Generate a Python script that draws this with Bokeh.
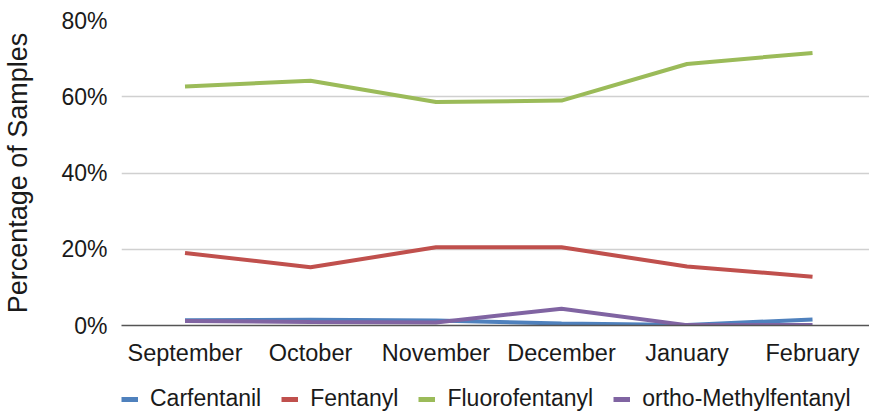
from bokeh.plotting import figure
from bokeh.models import Range1d, Legend, LegendItem, FixedTicker
from bokeh.layouts import column
from bokeh.embed import file_html
from bokeh.resources import INLINE

months = ["September", "October", "November", "December", "January", "February"]
carfentanil = [1.4, 1.5, 1.3, 0.5, 0.1, 1.6]
fentanyl = [19.0, 15.3, 20.5, 20.5, 15.5, 12.8]
fluorofentanyl = [62.7, 64.2, 58.6, 59.0, 68.6, 71.5]
ortho_methylfentanyl = [1.2, 0.9, 0.8, 4.4, 0.1, 0.1]
y_ticks = [0, 20, 40, 60, 80]
y_tick_labels = ["0%", "20%", "40%", "60%", "80%"]

series = [
    ("Carfentanil", carfentanil, "#4F81BD"),
    ("Fentanyl", fentanyl, "#C0504D"),
    ("Fluorofentanyl", fluorofentanyl, "#9BBB59"),
    ("ortho-Methylfentanyl", ortho_methylfentanyl, "#8064A2"),
]

FONT = "Liberation Sans"
TXT = "#1a1a1a"
xs = list(range(len(months)))

p = figure(width=869, height=368, output_backend="svg", toolbar_location=None,
           x_range=Range1d(-0.506, 5.454), y_range=Range1d(0, 80),
           min_border_left=121, min_border_right=0, min_border_top=20, min_border_bottom=40)
p.outline_line_color = None

for name, vals, col in series:
    p.line(xs, vals, line_color=col, line_width=4)

p.xaxis.ticker = FixedTicker(ticks=xs)
p.xaxis.major_label_overrides = {i: m for i, m in enumerate(months)}
p.xaxis.major_tick_line_color = None
p.xaxis.minor_tick_line_color = None
p.xaxis.axis_line_color = "#555555"
p.xaxis.axis_line_width = 1.5
p.xaxis.major_label_text_font = FONT
p.xaxis.major_label_text_font_size = "23.5px"
p.xaxis.major_label_text_color = TXT
p.xaxis.major_label_standoff = 8

p.yaxis.ticker = FixedTicker(ticks=y_ticks)
p.yaxis.major_label_overrides = dict(zip(y_ticks, y_tick_labels))
p.yaxis.axis_line_color = None
p.yaxis.major_tick_line_color = None
p.yaxis.minor_tick_line_color = None
p.yaxis.major_label_text_font = FONT
p.yaxis.major_label_text_font_size = "23px"
p.yaxis.major_label_text_color = TXT
p.yaxis.major_label_standoff = 8
p.yaxis.axis_label = "Percentage of Samples"
p.yaxis.axis_label_text_font = FONT
p.yaxis.axis_label_text_font_size = "27px"
p.yaxis.axis_label_text_font_style = "normal"
p.yaxis.axis_label_text_color = TXT
p.yaxis.axis_label_standoff = 25

p.xgrid.grid_line_color = None
p.ygrid.grid_line_color = "#D0D0D0"
p.ygrid.grid_line_width = 1.5

# legend strip: same series drawn out of view, only their legend swatches show
lg = figure(width=869, height=44, output_backend="svg", toolbar_location=None,
            x_range=Range1d(100, 101), y_range=Range1d(1000, 1001),
            x_axis_location=None, y_axis_location=None,
            min_border_left=0, min_border_right=0, min_border_top=0, min_border_bottom=0)
lg.grid.visible = False
lg.outline_line_color = None
items = []
for name, vals, col in series:
    r = lg.line(xs, vals, line_color=col, line_width=5)
    items.append(LegendItem(label=name, renderers=[r]))
legend = Legend(items=items, orientation="horizontal", location=(0, 0),
                glyph_width=17, glyph_height=6, label_standoff=12, spacing=20,
                label_text_font=FONT, label_text_font_size="23px", label_text_color=TXT,
                border_line_color=None, background_fill_alpha=0, padding=0, margin=0)
lg.add_layout(legend, "center")

layout = column(p, lg, spacing=0)
open("out.html", "w").write(file_html(layout, INLINE))
